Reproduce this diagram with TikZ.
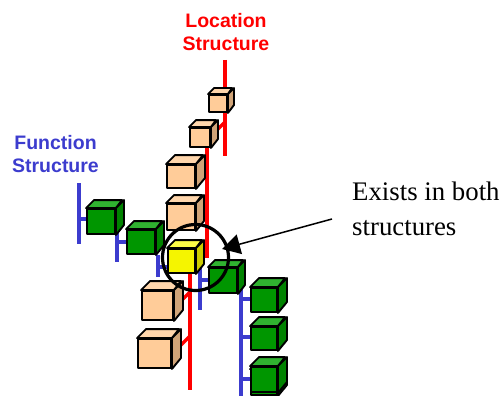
\documentclass[tikz,border=0pt]{standalone}
\usepackage{fontspec}
\setmainfont{Liberation Serif}
\setsansfont{Liberation Sans}
\usetikzlibrary{calc,arrows.meta}

\definecolor{locred}{RGB}{255,0,0}
\definecolor{funblue}{RGB}{60,60,206}
\definecolor{peachfront}{RGB}{255,204,153}
\definecolor{peachtop}{RGB}{255,214,172}
\definecolor{peachside}{RGB}{208,164,120}
\definecolor{greenfront}{RGB}{0,150,0}
\definecolor{greentop}{RGB}{48,178,48}
\definecolor{greenside}{RGB}{0,130,0}
\definecolor{yelfront}{RGB}{245,245,0}
\definecolor{yeltop}{RGB}{250,250,70}
\definecolor{yelside}{RGB}{205,205,0}

% a box drawn in oblique view: front face is a named node, top and side faces hang off it
% #1 name, #2 x, #3 y (front centre), #4 width, #5 height, #6 depth, #7 colour family
\newcommand\obliquebox[7]{%
  \node[cubefront, fill=#7front, minimum width=#4pt, minimum height=#5pt] (#1) at (#2,#3) {};
  \filldraw[cubeedge, fill=#7top] (#1.north west) -- ++(#6,-#6) -- ++(#4,0) -- (#1.north east) -- cycle;
  \filldraw[cubeedge, fill=#7side] (#1.north east) -- ++(#6,-#6) -- ++(0,#5) -- (#1.south east) -- cycle;
}

\begin{document}
\begin{tikzpicture}[x=1pt, y=-1pt,
  cubefront/.style={draw=black, line width=1.9pt, inner sep=0pt, rectangle, line join=round},
  cubeedge/.style={draw=black, line width=1.9pt, line join=round},
  redline/.style={draw=locred, line width=3.4pt},
  blueline/.style={draw=funblue, line width=3.4pt},
  redtick/.style={draw=locred, line width=3.2pt},
  bluetick/.style={draw=funblue, line width=3.4pt},
  structlabel/.style={font=\sffamily\bfseries\fontsize{19.5}{23.5}\selectfont, align=center, inner sep=0pt, anchor=north},
]
\useasboundingbox (0,0) rectangle (501,396);

% ---- location structure (red tree) ----
\coordinate (r1top) at (225,60);   \coordinate (r1bot) at (225,156);
\coordinate (r2top) at (207,147);  \coordinate (r2bot) at (207,258);
\coordinate (r3top) at (190,265);  \coordinate (r3bot) at (190,390);
\draw[redline] (r1top) -- (r1bot);
\draw[redline] (r2top) -- (r2bot);
\draw[redline] (r3top) -- (r3bot);

\coordinate (t2) at (225,122);
\coordinate (t3) at (207,159);
\coordinate (t4) at (207,200);
\coordinate (ty) at (207,243);
\coordinate (t5) at (190,292);
\coordinate (t6) at (190,336);
\foreach \t in {t2,t3,t4,ty,t5,t6}
  \draw[redtick] ($(\t)+(-10,10)$) -- (\t);

% ---- function structure (blue tree) ----
\coordinate (b1top) at (79,183);   \coordinate (b1bot) at (79,244);
\coordinate (b2top) at (117,232);  \coordinate (b2bot) at (117,262);
\coordinate (b3top) at (158,255);  \coordinate (b3bot) at (158,277);
\coordinate (b4top) at (200,265);  \coordinate (b4bot) at (200,310);
\coordinate (b5top) at (241,289);  \coordinate (b5bot) at (241,396);
\draw[blueline] (b1top) -- (b1bot);
\draw[blueline] (b2top) -- (b2bot);
\draw[blueline] (b3top) -- (b3bot);
\draw[blueline] (b4top) -- (b4bot);
\draw[blueline] (b5top) -- (b5bot);

\coordinate (bt1) at (79,219);
\coordinate (bt2) at (117,242);
\coordinate (bt3) at (158,267);
\coordinate (bt4) at (200,280);
\coordinate (bt5) at (241,299);
\coordinate (bt6) at (241,337);
\coordinate (bt7) at (241,379);

% ---- boxes of the location structure ----
\obliquebox{p1}{218}{103.5}{18}{17}{6}{peach}
\obliquebox{p2}{200}{137.5}{20}{19}{7}{peach}
\obliquebox{p3}{181}{176.5}{28}{23}{9}{peach}
\obliquebox{p4}{181}{217}{28}{26}{8}{peach}
\obliquebox{p5}{157.5}{305.5}{31}{29}{9}{peach}
\obliquebox{p6}{154.5}{353.5}{33}{29}{9}{peach}

% ---- boxes of the function structure ----
\draw[bluetick] (bt1) -- (bt1 -| 87,0);
\obliquebox{g1}{101}{221.5}{28}{25}{8}{green}
\draw[bluetick] (bt2) -- (bt2 -| 127,0);
\obliquebox{g2}{141}{242}{28}{24}{8}{green}
\draw[bluetick] (bt4) -- (bt4 -| 209,0);
\obliquebox{g3}{223}{280.5}{28}{25}{7}{green}
\draw[bluetick] (bt5) -- (bt5 -| 251,0);
\draw[bluetick] (bt6) -- (bt6 -| 251,0);
\draw[bluetick] (bt7) -- (bt7 -| 251,0);
\obliquebox{ga}{264}{300}{26}{24}{9}{green}
\obliquebox{gb}{264}{338.5}{26}{23}{9}{green}
\obliquebox{gcs}{264}{382.5}{26}{25}{9}{green}
\obliquebox{gc}{264}{379.5}{26}{25}{9}{green}

% ---- the shared element ----
\draw[bluetick] (bt3) -- (bt3 -| 168,0);
\obliquebox{yb}{181.5}{261}{27}{24}{8}{yel}

% ---- highlight and annotation ----
\node[draw=black, circle, line width=3.2pt, minimum size=66pt, inner sep=0pt] (ring) at (195.5,257.5) {};
\coordinate (tail) at (332,219);
\coordinate (tip) at (222,249);
\draw[line width=1.5pt, -{Triangle[length=18pt,width=20pt]}] (tail) -- (tip);

\node[font=\fontsize{26.8}{35}\selectfont, align=left, inner sep=0pt, anchor=north west] (note) at (352,182)
  {Exists in both\\structures};

\node[structlabel, text=locred] (loc) at (226,13) {Location\\Structure};
\node[structlabel, text=funblue] (fun) at (55.5,135) {Function\\Structure};
\end{tikzpicture}
\end{document}
